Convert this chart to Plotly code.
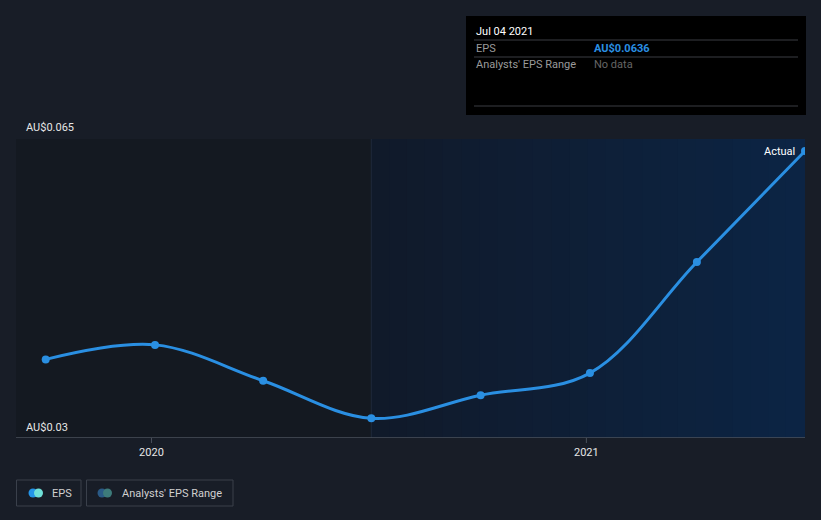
import plotly.graph_objects as go
import datetime as dt

dates = ["2019-10-04", "2020-01-04", "2020-04-04", "2020-07-04", "2020-10-04",
         "2021-01-04", "2021-04-04", "2021-07-04"]
eps = [0.0392, 0.0409, 0.0367, 0.0323, 0.0350, 0.0376, 0.0506, 0.0636]
y_ticks = [0.03, 0.065]
y_tick_labels = ["AU$0.03", "AU$0.065"]
grid_vals = [0.04, 0.05, 0.06]
x_ticks = ["2020-01-01", "2021-01-01"]
x_tick_labels = ["2020", "2021"]
forecast_start = "2020-07-04"
x_range = ["2019-09-09", "2021-07-04"]

PAGE = "#181d27"
FONT = "Roboto"
L, R, T, B = 16, 16, 139, 82
W, H = 821, 520
PW, PH = W - L - R, H - T - B


def px(x):
    return (x - L) / PW


def py(y):
    return (T + PH - y) / PH


fig = go.Figure()

shapes = []
shapes.append(dict(type="rect", xref="x", yref="y", x0=x_range[0], x1=forecast_start,
                   y0=y_ticks[0], y1=y_ticks[1], fillcolor="#141921", line_width=0, layer="below"))
d0 = dt.date.fromisoformat(forecast_start)
d1 = dt.date.fromisoformat(x_range[1])
n = 24
c0 = (0x11, 0x1a, 0x2a)
c1 = (0x0c, 0x25, 0x45)
span = (d1 - d0).days
for i in range(n):
    a = d0 + dt.timedelta(days=span * i / n)
    b = d0 + dt.timedelta(days=span * (i + 1) / n + 1)
    t = (i + 0.5) / n
    col = "#%02x%02x%02x" % tuple(int(c0[k] + (c1[k] - c0[k]) * t) for k in range(3))
    shapes.append(dict(type="rect", xref="x", yref="y", x0=a.isoformat(), x1=min(b, d1).isoformat(),
                       y0=y_ticks[0], y1=y_ticks[1], fillcolor=col, line_width=0, layer="below"))
shapes.append(dict(type="line", xref="x", yref="y", x0=forecast_start, x1=forecast_start,
                   y0=y_ticks[0], y1=y_ticks[1], line=dict(color="#1f2a3b", width=1), layer="below"))
for g in grid_vals:
    shapes.append(dict(type="line", xref="paper", yref="y", x0=0, x1=1, y0=g, y1=g,
                       line=dict(color="#2b313c", width=1), layer="below"))
shapes.append(dict(type="line", xref="paper", yref="y", x0=0, x1=1, y0=y_ticks[1], y1=y_ticks[1],
                   line=dict(color="#3f4550", width=1), layer="below"))
shapes.append(dict(type="line", xref="paper", yref="y", x0=0, x1=1, y0=y_ticks[0], y1=y_ticks[0],
                   line=dict(color="#4a505b", width=1.5)))
for xt in x_ticks:
    shapes.append(dict(type="line", xref="x", yref="paper", x0=xt, x1=xt, y0=py(438), y1=py(443),
                       line=dict(color="#4a505b", width=1)))

# tooltip box
shapes.append(dict(type="rect", xref="paper", yref="paper", x0=px(466), x1=px(806), y0=py(115), y1=py(16),
                   fillcolor="#000000", line_width=0))
for yy in (40, 57, 106):
    shapes.append(dict(type="line", xref="paper", yref="paper", x0=px(474), x1=px(798), y0=py(yy), y1=py(yy),
                       line=dict(color="#3a3d42", width=1)))

# legend boxes
shapes.append(dict(type="rect", xref="paper", yref="paper", x0=px(16.5), x1=px(81), y0=py(506), y1=py(480),
                   line=dict(color="#3a404b", width=1), fillcolor="rgba(0,0,0,0)"))
shapes.append(dict(type="rect", xref="paper", yref="paper", x0=px(86.5), x1=px(233), y0=py(506), y1=py(480),
                   line=dict(color="#3a404b", width=1), fillcolor="rgba(0,0,0,0)"))
for cx, col in ((33, "#2394e8"), (38.5, "#6fe0d8"), (102, "#2a5a86"), (107.5, "#3d7b7a")):
    shapes.append(dict(type="circle", xref="paper", yref="paper", x0=px(cx - 4.5), x1=px(cx + 4.5),
                       y0=py(497.5), y1=py(488.5), fillcolor=col, line_width=0))

fig.add_trace(go.Scatter(x=dates, y=eps, mode="lines+markers",
                         line=dict(color="#2a8fe2", width=3, shape="spline", smoothing=1.0),
                         marker=dict(size=8, color="#2a8fe2"), hoverinfo="skip", cliponaxis=True))

ann = []
for v, lab, yy in zip(y_ticks, y_tick_labels, (427, 127)):
    ann.append(dict(xref="paper", yref="paper", x=px(24), y=py(yy), text=lab, showarrow=False,
                    xanchor="left", yanchor="middle", font=dict(color="#e6e6e6", size=11, family=FONT)))
ann.append(dict(xref="paper", yref="paper", x=px(797), y=py(151), text="Actual", showarrow=False,
                xanchor="right", yanchor="middle", font=dict(color="#ffffff", size=11, family=FONT)))
ann.append(dict(xref="paper", yref="paper", x=px(474), y=py(31), text="Jul 04 2021", showarrow=False,
                xanchor="left", yanchor="middle", font=dict(color="#ffffff", size=11, family=FONT)))
ann.append(dict(xref="paper", yref="paper", x=px(474), y=py(48), text="EPS", showarrow=False,
                xanchor="left", yanchor="middle", font=dict(color="#9a9a9a", size=11, family=FONT)))
ann.append(dict(xref="paper", yref="paper", x=px(592), y=py(48), text="<b>AU$%.4f</b>" % eps[-1], showarrow=False,
                xanchor="left", yanchor="middle", font=dict(color="#2a8fe2", size=11, family=FONT)))
ann.append(dict(xref="paper", yref="paper", x=px(474), y=py(65), text="Analysts' EPS Range", showarrow=False,
                xanchor="left", yanchor="middle", font=dict(color="#9a9a9a", size=11, family=FONT)))
ann.append(dict(xref="paper", yref="paper", x=px(592), y=py(65), text="No data", showarrow=False,
                xanchor="left", yanchor="middle", font=dict(color="#666666", size=11, family=FONT)))
ann.append(dict(xref="paper", yref="paper", x=px(50), y=py(493), text="EPS", showarrow=False,
                xanchor="left", yanchor="middle", font=dict(color="#d0d0d0", size=11, family=FONT)))
ann.append(dict(xref="paper", yref="paper", x=px(120), y=py(493), text="Analysts' EPS Range", showarrow=False,
                xanchor="left", yanchor="middle", font=dict(color="#d0d0d0", size=11, family=FONT)))

fig.update_layout(
    width=W, height=H, margin=dict(l=L, r=R, t=T, b=B),
    paper_bgcolor=PAGE, plot_bgcolor=PAGE, showlegend=False,
    shapes=shapes, annotations=ann,
    xaxis=dict(range=x_range, tickvals=x_ticks, ticktext=x_tick_labels, showgrid=False, zeroline=False,
               showline=False, ticks="", tickfont=dict(color="#e6e6e6", size=11, family=FONT), ticklabelstandoff=6),
    yaxis=dict(range=[y_ticks[0], y_ticks[1]], showgrid=False, zeroline=False, showticklabels=False,
               showline=False),
    hovermode=False,
)
fig.write_html("out.html")
